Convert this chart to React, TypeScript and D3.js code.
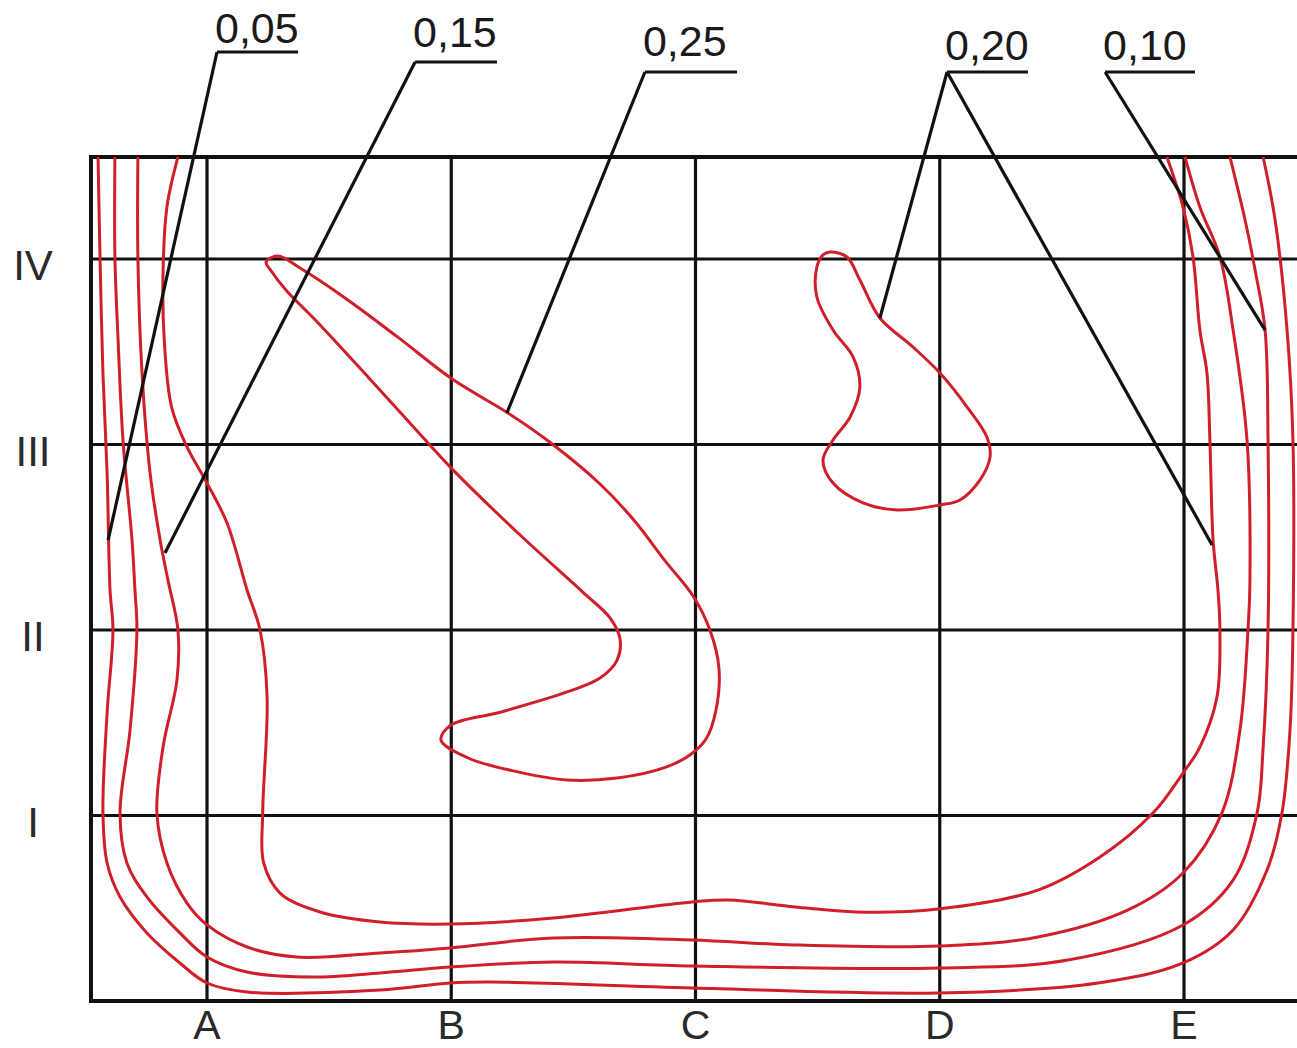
import React from 'react';
import * as d3 from 'd3';

type Pt = [number, number];

// Grid categories (data units: columns A..E = 1..5, rows I..IV = 1..4)
const columnLabels = ['A', 'B', 'C', 'D', 'E'];
const columnValues = [1, 2, 3, 4, 5];
const rowLabels = ['I', 'II', 'III', 'IV'];
const rowValues = [1, 2, 3, 4];
const frameX: Pt = [0.525, 5.48];
const frameY: Pt = [0, 4.55];

// Isolines (data units)
const contour005: Pt[] = [
  [0.554, 4.55], [0.562, 4.011], [0.574, 3.385], [0.591, 2.846], [0.603, 2.216], [0.615, 2.0],
  [0.591, 1.553], [0.574, 1.013], [0.591, 0.744], [0.644, 0.561], [0.754, 0.367], [0.889, 0.205],
  [1.0, 0.097], [1.164, 0.049], [1.708, 0.059], [1.995, 0.097], [2.167, 0.102], [2.986, 0.07],
  [3.997, 0.043], [4.648, 0.097], [4.996, 0.205], [5.201, 0.383], [5.34, 0.706], [5.401, 1.013],
  [5.434, 1.461], [5.446, 1.995], [5.446, 3.024], [5.422, 3.617], [5.373, 4.21], [5.324, 4.55],
];
const contour010: Pt[] = [
  [0.623, 4.55], [0.623, 4.011], [0.636, 3.563], [0.656, 3.024], [0.693, 2.485], [0.705, 2.216],
  [0.713, 2.0], [0.685, 1.461], [0.644, 1.013], [0.672, 0.744], [0.754, 0.561], [0.889, 0.367],
  [1.0, 0.237], [1.164, 0.156], [1.434, 0.129], [1.708, 0.151], [1.995, 0.183], [2.417, 0.21],
  [2.986, 0.189], [3.997, 0.178], [4.525, 0.221], [4.996, 0.41], [5.201, 0.652], [5.299, 1.013],
  [5.324, 1.369], [5.344, 2.0], [5.344, 3.024], [5.332, 3.617], [5.291, 3.941], [5.25, 4.21], [5.188, 4.55],
];
const contour015: Pt[] = [
  [0.717, 4.55], [0.717, 4.011], [0.734, 3.385], [0.767, 2.846], [0.808, 2.485], [0.84, 2.27],
  [0.881, 2.0], [0.877, 1.73], [0.82, 1.369], [0.795, 1.013], [0.836, 0.744], [0.918, 0.528],
  [1.0, 0.41], [1.164, 0.291], [1.368, 0.237], [1.708, 0.259], [1.995, 0.286], [2.417, 0.34],
  [2.986, 0.329], [3.407, 0.302], [3.997, 0.296], [4.402, 0.345], [4.771, 0.491], [4.996, 0.69],
  [5.155, 1.013], [5.229, 1.461], [5.262, 2.0], [5.27, 2.27], [5.258, 3.024], [5.201, 3.617],
  [5.147, 4.011], [5.065, 4.28], [5.004, 4.55],
];
const contour020: Pt[] = [
  [0.881, 4.55], [0.836, 4.28], [0.82, 3.925], [0.825, 3.563], [0.855, 3.202], [0.918, 2.987],
  [1.0, 2.792], [1.082, 2.577], [1.164, 2.216], [1.217, 2.0], [1.246, 1.639], [1.228, 1.013],
  [1.232, 0.744], [1.299, 0.582], [1.463, 0.48], [1.708, 0.426], [1.995, 0.415], [2.417, 0.447],
  [2.986, 0.534], [3.137, 0.544], [3.407, 0.507], [3.657, 0.48], [3.993, 0.496], [4.402, 0.598],
  [4.656, 0.776], [4.873, 1.013], [4.996, 1.229], [5.065, 1.369], [5.135, 1.639], [5.147, 2.0],
  [5.139, 2.216], [5.119, 2.485], [5.106, 3.024], [5.094, 3.385], [5.065, 3.617], [5.037, 4.011],
  [4.996, 4.28], [4.93, 4.55],
];
const island020: Pt[] = [
  [3.551, 4.038], [3.62, 4.011], [3.673, 3.887], [3.755, 3.682], [3.89, 3.526], [4.001, 3.385],
  [4.112, 3.202], [4.193, 3.04], [4.206, 2.933], [4.165, 2.809], [4.083, 2.701], [4.001, 2.674],
  [3.825, 2.647], [3.686, 2.685], [3.563, 2.792], [3.522, 2.916], [3.563, 3.024], [3.633, 3.148],
  [3.673, 3.31], [3.645, 3.472], [3.563, 3.617], [3.497, 3.795], [3.497, 3.957], [3.522, 4.022],
];
const band025: Pt[] = [
  [1.242, 3.984], [1.291, 4.016], [1.381, 3.951], [1.565, 3.79], [1.78, 3.58], [2.007, 3.35],
  [2.232, 3.17], [2.408, 3.008], [2.609, 2.787], [2.744, 2.598], [2.879, 2.367], [2.99, 2.183],
  [3.059, 2.0], [3.096, 1.795], [3.084, 1.569], [3.043, 1.412], [2.977, 1.326], [2.879, 1.261],
  [2.679, 1.202], [2.474, 1.191], [2.273, 1.235], [2.069, 1.31], [1.958, 1.407], [1.999, 1.488],
  [2.204, 1.558], [2.474, 1.666], [2.609, 1.741], [2.679, 1.838], [2.691, 1.951], [2.65, 2.065],
  [2.543, 2.199], [2.273, 2.523], [2.007, 2.863], [1.905, 3.008], [1.663, 3.359], [1.459, 3.65],
  [1.323, 3.833], [1.266, 3.93],
];

const openContours: Pt[][] = [contour005, contour010, contour015, contour020];
const closedContours: Pt[][] = [island020, band025];

// Leader labels: label, baseline y, underline from anchor to end, and target points
const leaderLabels = ['0,05', '0,15', '0,25', '0,20', '0,10'];
const leaderTextY = [5.164, 5.143, 5.094, 5.073, 5.073];
const leaderAnchors: Pt[] = [[1.041, 5.116], [1.852, 5.062], [2.793, 5.008], [4.03, 5.008], [4.677, 5.008]];
const leaderEnds: Pt[] = [[1.373, 5.116], [2.187, 5.062], [3.17, 5.008], [4.361, 5.008], [5.045, 5.008]];
const leaderTargets: Pt[][] = [
  [[0.595, 2.485]],
  [[0.828, 2.415]],
  [[2.228, 3.17]],
  [[3.755, 3.682], [5.115, 2.458]],
  [[5.332, 3.617]],
];

const W = 1297;
const H = 1048;

export default function App() {
  const x = d3.scaleLinear().domain([1, 5]).range([207, 1184]);
  const y = d3.scaleLinear().domain([0, 4]).range([1001, 259]);

  const openLine = d3.line<Pt>().x(d => x(d[0])).y(d => y(d[1])).curve(d3.curveCatmullRom.alpha(0.5));
  const closedLine = d3.line<Pt>().x(d => x(d[0])).y(d => y(d[1])).curve(d3.curveCatmullRomClosed.alpha(0.5));

  const red = '#d01f2a';
  const font = '"Liberation Sans", Arial, Helvetica, sans-serif';

  return (
    <svg width={W} height={H} style={{ position: 'absolute', left: 0, top: 0, background: '#fff' }}>
      <rect x={0} y={0} width={W} height={H} fill="#fff" />
      {/* grid */}
      <g stroke="#111" strokeWidth={3.2} fill="none">
        {columnValues.map(c => (
          <line key={'v' + c} x1={x(c)} x2={x(c)} y1={y(frameY[0])} y2={y(frameY[1])} />
        ))}
        {rowValues.map(r => (
          <line key={'h' + r} x1={x(frameX[0])} x2={x(frameX[1])} y1={y(r)} y2={y(r)} />
        ))}
        <line x1={x(frameX[0])} x2={x(frameX[0])} y1={y(frameY[0]) + 2} y2={y(frameY[1]) - 2} strokeWidth={4} />
        <line x1={x(frameX[0])} x2={x(frameX[1])} y1={y(frameY[1])} y2={y(frameY[1])} strokeWidth={4} />
        <line x1={x(frameX[0])} x2={x(frameX[1])} y1={y(frameY[0])} y2={y(frameY[0])} strokeWidth={4} />
      </g>
      {/* isolines */}
      <g stroke={red} strokeWidth={3} fill="none" strokeLinejoin="round">
        {openContours.map((c, i) => <path key={'o' + i} d={openLine(c) || ''} />)}
        {closedContours.map((c, i) => <path key={'c' + i} d={closedLine(c) || ''} />)}
      </g>
      {/* leaders */}
      <g stroke="#111" strokeWidth={3.2} fill="none">
        {leaderLabels.map((l, i) => (
          <g key={'l' + l + i}>
            <line x1={x(leaderAnchors[i][0])} y1={y(leaderAnchors[i][1])} x2={x(leaderEnds[i][0])} y2={y(leaderEnds[i][1])} />
            {leaderTargets[i].map((t, j) => (
              <line key={j} x1={x(leaderAnchors[i][0])} y1={y(leaderAnchors[i][1])} x2={x(t[0])} y2={y(t[1])} />
            ))}
          </g>
        ))}
      </g>
      <g fontFamily={font} fontSize={43} fill="#1a1a1a">
        {leaderLabels.map((l, i) => (
          <text key={'t' + i} x={x(leaderAnchors[i][0]) - 2} y={y(leaderTextY[i])}>{l}</text>
        ))}
      </g>
      {/* axis labels */}
      <g fontFamily={font} fontSize={41} fill="#2a2a2a" textAnchor="middle">
        {columnLabels.map((c, i) => (
          <text key={'cl' + c} x={x(columnValues[i])} y={1039}>{c}</text>
        ))}
      </g>
      <g fontFamily={font} fontSize={42} fill="#2a2a2a" textAnchor="middle">
        {rowLabels.map((r, i) => (
          <text key={'rl' + r} x={33} y={y(rowValues[i]) + 21}>{r}</text>
        ))}
      </g>
    </svg>
  );
}
